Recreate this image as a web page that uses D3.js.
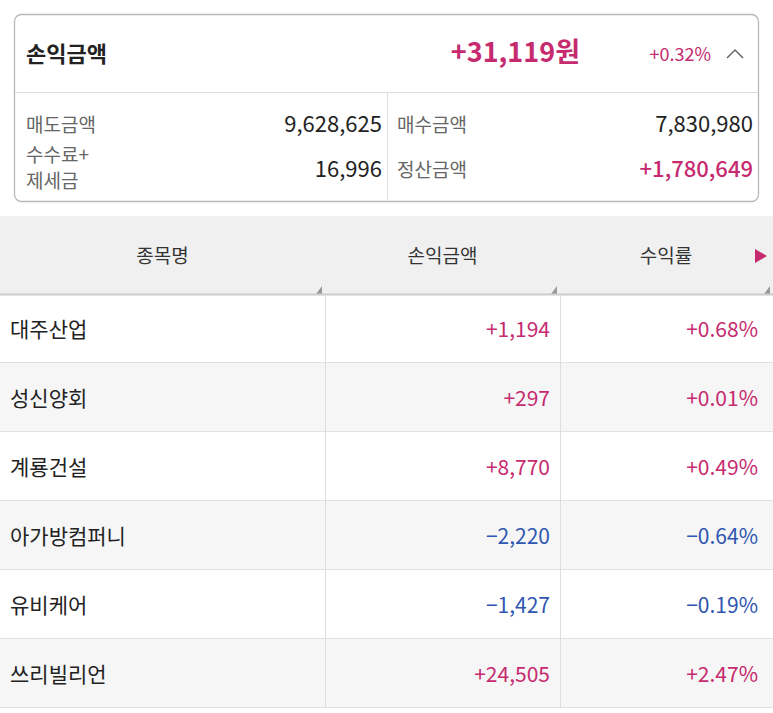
<!DOCTYPE html><html><head><meta charset="utf-8"><script src="https://d3js.org/d3.v7.min.js"></script>
<style>body{margin:0;background:#fff}svg{display:block;font-family:"Noto Sans CJK KR","Noto Sans",sans-serif}</style></head><body><svg id="c" width="773" height="713"></svg><script>
const stocks=["대주산업","성신양회","계룡건설","아가방컴퍼니","유비케어","쓰리빌리언"];
const pnl=["+1,194","+297","+8,770","−2,220","−1,427","+24,505"];
const rate=["+0.68%","+0.01%","+0.49%","−0.64%","−0.19%","+2.47%"];
const headers=["종목명","손익금액","수익률"];
const PINK="#c62a6f",BLUE="#2f56b0",DARK="#222";
const svg=d3.select("#c");
// summary card
svg.append("rect").attr("x",14.5).attr("y",14.5).attr("width",744).attr("height",187).attr("rx",7).attr("fill","#fff").attr("stroke","#b8b8b8").attr("stroke-width",1.3);
svg.append("line").attr("x1",15).attr("x2",758).attr("y1",92.5).attr("y2",92.5).attr("stroke","#ddd");
svg.append("line").attr("x1",387.5).attr("x2",387.5).attr("y1",93).attr("y2",201).attr("stroke","#ddd");
const t=(x,y,s,size,fill,anchor,w)=>svg.append("text").attr("x",x).attr("y",y).text(s).attr("font-size",size).attr("fill",fill).attr("text-anchor",anchor||"start").attr("font-weight",w||400);
t(26,62,"손익금액",22,DARK,"start",700);
t(580,62,"+31,119원",27,PINK,"end",700);
t(711,61,"+0.32%",18,PINK,"end");
svg.append("path").attr("d","M727,58 L735,50 L743,58").attr("fill","none").attr("stroke","#666").attr("stroke-width",1.5);
t(26,132,"매도금액",19,"#666");
t(382,132,"9,628,625",22,DARK,"end");
t(397,132,"매수금액",19,"#666");
t(753,132,"7,830,980",22,DARK,"end");
t(26,162,"수수료+",19,"#666");
t(26,188,"제세금",19,"#666");
t(382,177,"16,996",22,DARK,"end");
t(397,177,"정산금액",19,"#666");
t(753,177,"+1,780,649",22,PINK,"end",500);
// table
const cols=[0,325,560,773];
svg.append("rect").attr("x",0).attr("y",216).attr("width",773).attr("height",78).attr("fill","#f0f0f0");
headers.forEach((h,i)=>{
  const cx=i==2?666:(cols[i]+cols[i+1])/2;
  t(cx,263,h,19,"#333","middle");
  const x=cols[i+1]-3;
  svg.append("path").attr("d",`M${x},286 L${x},294 L${x-6},294 Z`).attr("fill","#999");
});
svg.append("path").attr("d","M755,249 L767,256 L755,263 Z").attr("fill",PINK);
const y=d3.scaleBand().domain(stocks).range([294,708]);
const g=svg.append("g");
stocks.forEach((s,i)=>{
  const y0=y(s),h=y.bandwidth();
  g.append("rect").attr("x",0).attr("y",y0).attr("width",773).attr("height",h).attr("fill",i%2?"#f6f6f6":"#fff");
  g.append("line").attr("x1",0).attr("x2",773).attr("y1",y0+h-0.5).attr("y2",y0+h-0.5).attr("stroke","#e2e2e2");
  const c=pnl[i].startsWith("+")?PINK:BLUE;
  t(10,y0+h/2+8,s,21,DARK);
  t(550,y0+h/2+8,pnl[i],21,c,"end");
  t(758,y0+h/2+8,rate[i],21,c,"end");
});
svg.append("line").attr("x1",0).attr("x2",773).attr("y1",294.5).attr("y2",294.5).attr("stroke","#ccc").attr("stroke-width",2);
[325,560].forEach(x=>svg.append("line").attr("x1",x+0.5).attr("x2",x+0.5).attr("y1",295).attr("y2",708).attr("stroke","#ddd"));
</script></body></html>
